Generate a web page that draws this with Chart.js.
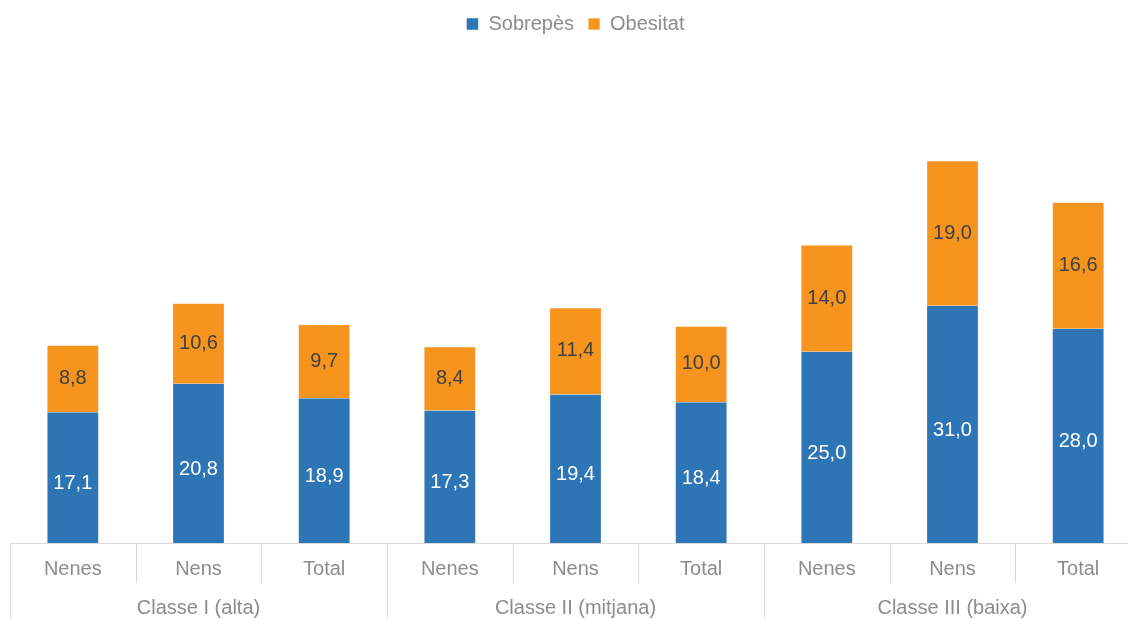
<!DOCTYPE html>
<html lang="ca">
<head>
  <meta charset="UTF-8">
  <title>Sobrepès i obesitat per classe social</title>
  <script src="https://cdn.jsdelivr.net/npm/chart.js"></script>
  <style>
    html, body { margin: 0; padding: 0; background: #fff; overflow: hidden; }
    #wrap { width: 1141px; height: 619px; position: relative; }
  </style>
</head>
<body>
  <div id="wrap"><canvas id="chart"></canvas></div>

  <script>
    // Dades
    const categories = ['Nenes', 'Nens', 'Total', 'Nenes', 'Nens', 'Total', 'Nenes', 'Nens', 'Total'];
    const groups = ['Classe I (alta)', 'Classe II (mitjana)', 'Classe III (baixa)'];
    const sobrepes = [17.1, 20.8, 18.9, 17.3, 19.4, 18.4, 25.0, 31.0, 28.0];
    const obesitat = [8.8, 10.6, 9.7, 8.4, 11.4, 10.0, 14.0, 19.0, 16.6];

    const FONT = '"Liberation Sans", Arial, sans-serif';
    const GRAY = '#8c8c8c';
    const LINE = '#d9d9d9';

    // Etiquetes de valor dins de les barres
    const valueLabels = {
      id: 'valueLabels',
      afterDatasetsDraw(chart) {
        const ctx = chart.ctx;
        ctx.save();
        ctx.font = '20px ' + FONT;
        ctx.textAlign = 'center';
        ctx.textBaseline = 'middle';
        chart.data.datasets.forEach((ds, i) => {
          const meta = chart.getDatasetMeta(i);
          meta.data.forEach((bar, j) => {
            const p = bar.getProps(['x', 'y', 'base'], true);
            ctx.fillStyle = i === 0 ? '#ffffff' : '#404040';
            ctx.fillText(ds.data[j].toFixed(1).replace('.', ','), p.x, (p.y + p.base) / 2 + (i === 0 ? 6 : 0));
          });
        });
        ctx.restore();
      }
    };

    // Eix X en dos nivells
    const twoLevelAxis = {
      id: 'twoLevelAxis',
      afterDraw(chart) {
        const ctx = chart.ctx;
        const x = chart.scales.x;
        const area = chart.chartArea;
        const bottom = area.bottom;
        const half = (x.getPixelForValue(1) - x.getPixelForValue(0)) / 2;
        ctx.save();
        ctx.strokeStyle = LINE;
        ctx.lineWidth = 1;
        ctx.beginPath();
        ctx.moveTo(area.left, bottom + 0.5);
        ctx.lineTo(area.right, bottom + 0.5);
        for (let i = 0; i <= categories.length; i++) {
          const px = Math.round(x.getPixelForValue(i) - half) + 0.5;
          const isGroup = i % 3 === 0;
          ctx.moveTo(px, bottom);
          ctx.lineTo(px, isGroup ? chart.height : bottom + 40);
        }
        ctx.stroke();

        ctx.fillStyle = GRAY;
        ctx.font = '20px ' + FONT;
        ctx.textAlign = 'center';
        ctx.textBaseline = 'middle';
        categories.forEach((c, i) => {
          ctx.fillText(c, x.getPixelForValue(i), bottom + 26);
        });
        groups.forEach((g, k) => {
          ctx.fillText(g, x.getPixelForValue(k * 3 + 1), bottom + 65);
        });
        ctx.restore();
      }
    };

    new Chart(document.getElementById('chart').getContext('2d'), {
      type: 'bar',
      data: {
        labels: categories.map((c, i) => c + i),
        datasets: [
          {
            label: 'Sobrepès',
            data: sobrepes,
            backgroundColor: '#2e75b6',
            borderColor: '#ffffff',
            borderWidth: { left: 1, right: 1, top: 0, bottom: 0 },
            borderSkipped: false
          },
          {
            label: 'Obesitat',
            data: obesitat,
            backgroundColor: '#f7941e',
            borderColor: '#ffffff',
            borderWidth: { left: 1, right: 1, top: 1, bottom: 0 },
            borderSkipped: false
          }
        ]
      },
      options: {
        responsive: true,
        maintainAspectRatio: false,
        animation: false,
        categoryPercentage: 1,
        barPercentage: 0.42,
        layout: { padding: { left: 10, right: 0, top: 0, bottom: 76 } },
        scales: {
          x: { stacked: true, display: false },
          y: { stacked: true, display: false, min: 0, max: 65.2 }
        },
        plugins: {
          legend: {
            position: 'top',
            labels: {
              boxWidth: 12,
              boxHeight: 12,
              padding: 14,
              color: GRAY,
              font: { family: FONT, size: 20 }
            }
          },
          tooltip: { enabled: false }
        }
      },
      plugins: [valueLabels, twoLevelAxis]
    });
  </script>
</body>
</html>
